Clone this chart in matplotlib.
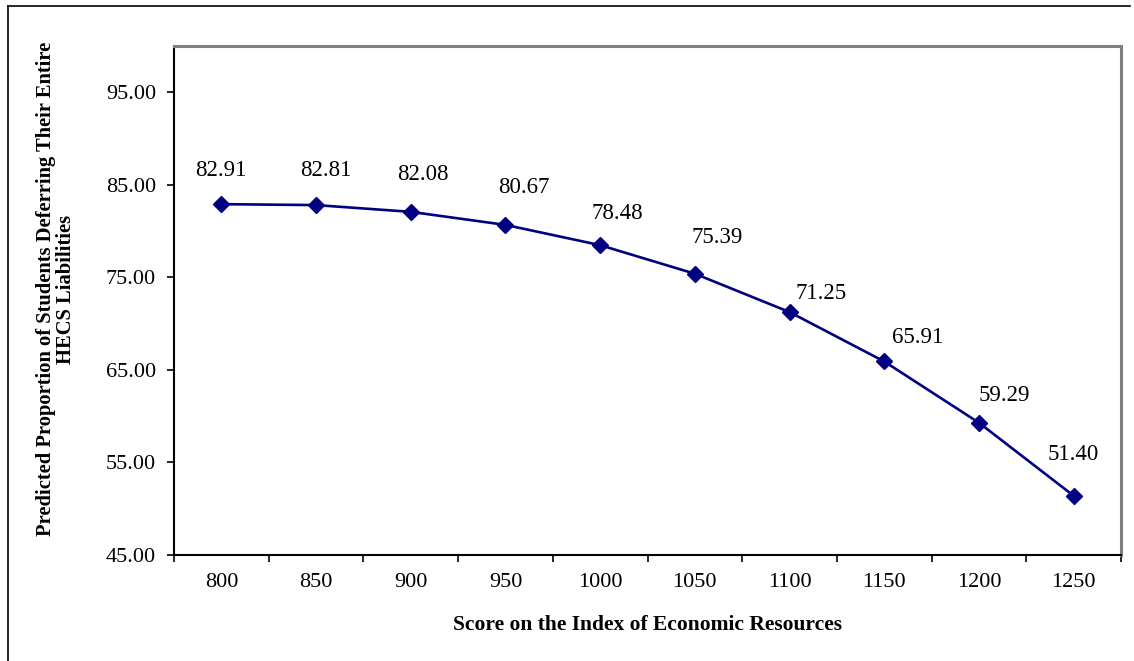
import matplotlib.pyplot as plt
from matplotlib.lines import Line2D
import numpy as np

plt.rcParams['font.family'] = ['Liberation Serif', 'DejaVu Serif']

# data
scores = ['800', '850', '900', '950', '1000', '1050', '1100', '1150', '1200', '1250']
proportions = [82.91, 82.81, 82.08, 80.67, 78.48, 75.39, 71.25, 65.91, 59.29, 51.40]
y_ticks = [45, 55, 65, 75, 85, 95]

# where each value label sits relative to its point (pixels)
label_offsets = [(-1, 34), (10, 35), (12, 37), (18, 37), (17, 32),
                 (22, 36), (32, 19), (33, 24), (25, 27), (0, 41)]

W, H, DPI = 1134, 661, 100
fig = plt.figure(figsize=(W / DPI, H / DPI), dpi=DPI)
ax = fig.add_axes([174 / W, 1 - 555 / H, (1121 - 174) / W, (555 - 46) / H])

x = np.arange(len(scores))
ax.plot(x, proportions, color='#000080', lw=1.9, marker='D', ms=8.5,
        markeredgecolor='#000080', markerfacecolor='#000080')

for xi, val, (dx, dy) in zip(x, proportions, label_offsets):
    ax.annotate(f'{val:.2f}', (xi, val), xytext=(dx, dy), textcoords='offset pixels',
                ha='center', va='center', fontsize=16.5)

ax.set_xlim(-0.5, len(scores) - 0.5)
ax.set_ylim(45, 100)
ax.set_yticks(y_ticks)
ax.set_yticklabels([f'{v:.2f}' for v in y_ticks])

# category ticks: marks at boundaries, labels at centres
ax.set_xticks(np.arange(-0.5, len(scores), 1.0))
ax.set_xticklabels([])
ax.set_xticks(x, minor=True)
ax.set_xticklabels(scores, minor=True)
ax.tick_params(axis='x', which='major', length=5, width=1.2, direction='out')
ax.tick_params(axis='x', which='minor', length=0, pad=13, labelsize=16)
ax.tick_params(axis='y', length=5, width=1.2, direction='out', pad=8, labelsize=16)

for side in ['left', 'bottom']:
    ax.spines[side].set_color('black')
    ax.spines[side].set_linewidth(1.5)
for side in ['top', 'right']:
    ax.spines[side].set_color('#808080')
    ax.spines[side].set_linewidth(2.2)

fig.text(647.5 / W, 1 - 625 / H, 'Score on the Index of Economic Resources',
         ha='center', va='center', fontsize=15.5, fontweight='bold')
fig.text(56 / W, 1 - 289 / H,
         'Predicted Proportion of Students Deferring Their Entire\nHECS Liabilities',
         ha='center', va='center', rotation=90, fontsize=14.8, fontweight='bold',
         linespacing=1.0)

# outer chart border (top and left edges visible in the screenshot)
fig.add_artist(Line2D([8 / W, 1130 / W], [1 - 6 / H, 1 - 6 / H], color='black', lw=1.2))
fig.add_artist(Line2D([8 / W, 8 / W], [0, 1 - 6 / H], color='black', lw=1.2))

fig.savefig('out.png', dpi=DPI)
